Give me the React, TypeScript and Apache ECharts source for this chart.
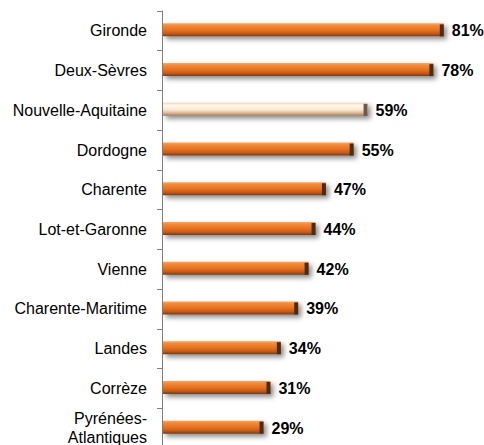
import React, { useEffect, useRef } from "react";
import * as echarts from "echarts";

const categories = [
  "Gironde",
  "Deux-Sèvres",
  "Nouvelle-Aquitaine",
  "Dordogne",
  "Charente",
  "Lot-et-Garonne",
  "Vienne",
  "Charente-Maritime",
  "Landes",
  "Corrèze",
  "Pyrénées-\nAtlantiques",
];
const values = [81, 78, 59, 55, 47, 44, 42, 39, 34, 31, 29];
const highlightCategory = "Nouvelle-Aquitaine";

const FONT = '"Liberation Sans", Arial, sans-serif';

export default function App() {
  const ref = useRef<HTMLDivElement>(null);
  useEffect(() => {
    if (!ref.current) return;
    const chart = echarts.init(ref.current, undefined, { renderer: "svg" });
    const orange = new echarts.graphic.LinearGradient(0, 0, 0, 1, [
      { offset: 0, color: "#f4a867" },
      { offset: 0.18, color: "#f08a3c" },
      { offset: 0.5, color: "#e8731f" },
      { offset: 0.78, color: "#c85a14" },
      { offset: 1, color: "#7a3a10" },
    ]);
    const cream = new echarts.graphic.LinearGradient(0, 0, 0, 1, [
      { offset: 0, color: "#f3d4b4" },
      { offset: 0.2, color: "#fff8ef" },
      { offset: 0.55, color: "#fbe6cc" },
      { offset: 0.8, color: "#d9b290" },
      { offset: 1, color: "#9c7a5e" },
    ]);
    const data = values.map((v, i) => [v, i]);
    chart.setOption({
      animation: false,
      grid: { left: 162, right: 10, top: 11, bottom: 0 },
      xAxis: {
        type: "value",
        min: 0,
        max: 90,
        show: false,
      },
      yAxis: {
        type: "category",
        data: categories,
        inverse: true,
        axisLine: { show: true, lineStyle: { color: "#808080", width: 1 } },
        axisTick: { show: true, length: 5, lineStyle: { color: "#808080" } },
        axisLabel: {
          color: "#000",
          fontFamily: FONT,
          fontSize: 16,
          margin: 15,
          lineHeight: 19,
        },
        splitLine: { show: false },
      },
      series: [
        {
          type: "custom",
          data,
          encode: { x: 0, y: 1 },
          renderItem: (params: any, api: any) => {
            const v = api.value(0);
            const idx = api.value(1);
            const start = api.coord([0, idx]);
            const end = api.coord([v, idx]);
            const h = 13;
            const y = start[1] - h / 2 - 1;
            const w = end[0] - start[0];
            const isHi = categories[idx] === highlightCategory;
            return {
              type: "group",
              children: [
                {
                  type: "rect",
                  shape: { x: start[0] + 1, y, width: w, height: h },
                  style: {
                    fill: isHi ? cream : orange,
                    shadowBlur: 5,
                    shadowOffsetX: 3,
                    shadowOffsetY: 3,
                    shadowColor: "rgba(0,0,0,0.45)",
                  },
                },
                {
                  type: "rect",
                  shape: { x: start[0] + 1 + w - 4, y: y + 1, width: 4, height: h - 1 },
                  style: {
                    fill: isHi ? "#6e5a4a" : "#4a2c14",
                  },
                },
                {
                  type: "text",
                  x: end[0] + 9,
                  y: start[1],
                  style: {
                    text: v + "%",
                    fill: "#000",
                    font: "bold 16px " + FONT,
                    verticalAlign: "middle",
                    align: "left",
                  },
                },
              ],
            };
          },
        },
      ],
    });
    return () => chart.dispose();
  }, []);
  return (
    <div
      ref={ref}
      style={{ position: "fixed", left: 0, top: 0, width: 484, height: 448, background: "#fff" }}
    />
  );
}
